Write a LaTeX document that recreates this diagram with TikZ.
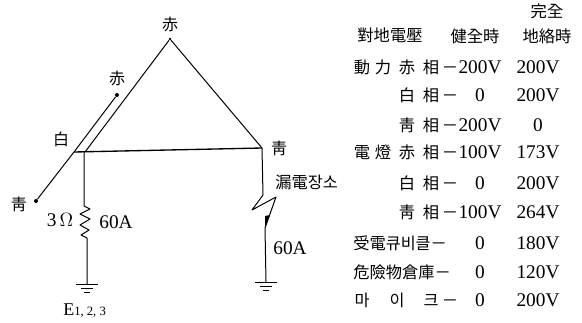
\documentclass[tikz,border=0pt]{standalone}
\usepackage{fontspec}
\setmainfont{Liberation Serif}
\newfontfamily\cjk{Noto Sans CJK KR}
\tikzset{
  lbl/.style={inner sep=0pt,font=\cjk\fontsize{12pt}{13pt}\selectfont},
  tbl/.style={inner sep=0pt,font=\cjk\fontsize{12.2pt}{13pt}\selectfont},
  num/.style={inner sep=0pt,font=\fontsize{14.5pt}{15pt}\selectfont},
  wire/.style={line width=0.75pt,line join=round},
  dot/.style={circle,fill=black,inner sep=0pt,minimum size=3pt}
}
\begin{document}
\begin{tikzpicture}[x=0.75pt,y=-0.75pt]
\useasboundingbox (0,0) rectangle (582,322);
% terminals
\node[dot,minimum size=2pt] (top) at (170,39) {};
\node[dot] (r2) at (117,95) {};
\node[dot] (bl) at (36,201) {};
\coordinate (w) at (74,152);
\coordinate (w2) at (85,152);
\coordinate (br) at (262,148);
% labels
\node[lbl] at (170,24) {赤};
\node[lbl] at (117,78) {赤};
\node[lbl] at (61,139) {白};
\node[lbl] at (279,148) {靑};
\node[lbl] at (19,204) {靑};
\node[tbl,anchor=west] at (275,182) {漏電장소};
\node[num] at (60,220) {3$\,\Omega$};
\node[num,font=\fontsize{14.5pt}{15pt}\selectfont] at (116,222) {60A};
\node[num] at (290,248) {60A};
\node[anchor=west,inner sep=0pt,font=\fontsize{13.5pt}{14pt}\selectfont] at (63,311) {E{\fontsize{9.5pt}{10pt}\selectfont 1, 2, 3}};
% wires
\draw[wire] (top) -- (w2) (r2) -- (w) -- (bl);
\draw[wire,line width=1pt] (w) -- (br);
\draw[wire] (top) -- (br);
\coordinate (g1) at (87,284);
\coordinate (g2) at (266,282);
\draw[wire] (84,152) -- (84,206) -- (90,209) -- (80,214) -- (90,219) -- (80,225) -- (89,230) -- (81,235) -- (87,238) -- (g1);
\draw[wire] (br) -- (263,195) -- (252,210) -- (276,197) -- (265,228) -- (g2);
\fill (270,215) -- (265,228) -- (265,216) -- cycle;
% grounds
\foreach \g in {g1,g2}{
  \draw[wire] ([xshift=-8.25pt]\g) -- ([xshift=8.25pt]\g);
  \draw[wire] ([xshift=-4.5pt,yshift=-3pt]\g) -- ([xshift=4.5pt,yshift=-3pt]\g);
  \draw[wire] ([xshift=-2pt,yshift=-6pt]\g) -- ([xshift=2pt,yshift=-6pt]\g);
}
% table header
\node[tbl] at (547,11) {完全};
\node[tbl] at (547,36) {地絡時};
\node[tbl] at (390,35) {對地電壓};
\node[tbl] at (475,36) {健全時};
% rows
\foreach \y/\a/\b/\c/\d/\e in {
 67/動/力/赤/200V/200V,
 95///白/0/200V,
 125///靑/200V/0,
 152/電/燈/赤/100V/173V,
 183///白/0/200V,
 212///靑/100V/264V}{
  \node[tbl] at (362,\y) {\vphantom{相}\a};
  \node[tbl] at (383,\y) {\vphantom{相}\b};
  \node[tbl] at (407,\y) {\vphantom{相}\c};
  \node[tbl] at (431,\y) {相};
  \node[tbl] at (450,\y) {\vphantom{相}－};
  \node[num] at (480,\y) {\d};
  \node[num] at (538,\y) {\e};
}
\foreach \y/\a/\e in {243/受電큐비클/180V,272/危險物倉庫/120V}{
  \node[tbl,anchor=west] at (353,\y) {\vphantom{相}\a－};
  \node[num] at (480,\y) {0};
  \node[num] at (538,\y) {\e};
}
\node[tbl] at (362,300) {\vphantom{相}마};
\node[tbl] at (397,300) {\vphantom{相}이};
\node[tbl] at (431,300) {\vphantom{相}크};
\node[tbl] at (450,300) {\vphantom{相}－};
\node[num] at (480,300) {0};
\node[num] at (538,300) {200V};
\end{tikzpicture}
\end{document}
